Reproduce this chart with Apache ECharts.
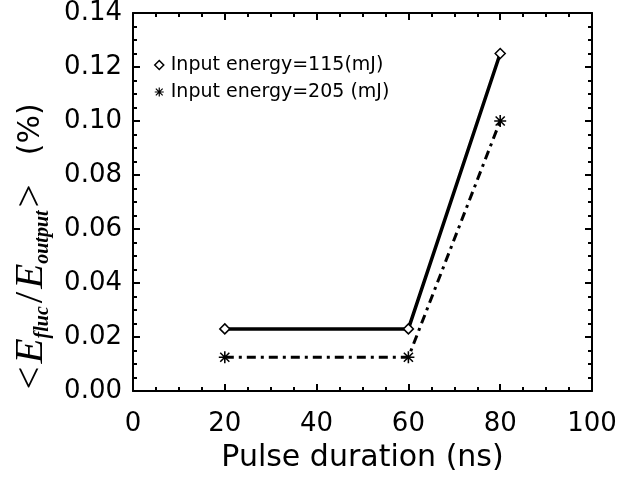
<!DOCTYPE html>
<html>
<head>
<meta charset="utf-8">
<script src="https://cdn.jsdelivr.net/npm/echarts@6/dist/echarts.min.js"></script>
<style>html,body{margin:0;padding:0;background:#fff}#c{width:620px;height:478px}</style>
</head>
<body>
<div id="c"></div>
<script>
const pulseDuration = [20, 60, 80];
const energy115 = [0.023, 0.023, 0.125];
const energy205 = [0.0125, 0.0125, 0.100];
const seriesNames = ['Input energy=115(mJ)', 'Input energy=205 (mJ)'];
const xTicks = [0, 20, 40, 60, 80, 100];
const yTicks = [0.00, 0.02, 0.04, 0.06, 0.08, 0.10, 0.12, 0.14];

const diamond = 'path://M0,-1L1,0L0,1L-1,0Z';
const asterisk = 'path://M-1,-0.13L1,-0.13L1,0.13L-1,0.13Z M-0.13,-1L0.13,-1L0.13,1L-0.13,1Z M-0.85,-0.67L-0.67,-0.85L0.85,0.67L0.67,0.85Z M-0.67,0.85L-0.85,0.67L0.67,-0.85L0.85,-0.67Z';

const font = 'DejaVu Sans';
const tick = {show: true, inside: true, length: 7, lineStyle: {color: '#000', width: 2}};
const minor = {show: true, splitNumber: 4, length: 4, lineStyle: {color: '#000', width: 2}};
const line = {show: true, onZero: false, lineStyle: {color: '#000', width: 2}};

const chart = echarts.init(document.getElementById('c'), null, {renderer: 'canvas'});
chart.setOption({
  backgroundColor: '#fff',
  animation: false,
  grid: {left: 133, right: 28, top: 9, bottom: 87, containLabel: false},
  legend: {
    orient: 'vertical', left: 149, top: 50, itemWidth: 9, itemHeight: 9, itemGap: 7,
    textStyle: {fontFamily: font, fontSize: 19, color: '#000', lineHeight: 20, padding: [0, 0, 0, 2]},
    data: [
      {name: seriesNames[0], icon: diamond, itemStyle: {color: '#fff', borderColor: '#000', borderWidth: 1.5}},
      {name: seriesNames[1], icon: asterisk, itemStyle: {color: '#000', borderWidth: 0}}
    ]
  },
  xAxis: [{
    type: 'value', min: xTicks[0], max: xTicks[xTicks.length - 1], interval: 20, position: 'bottom',
    axisLine: line, axisTick: tick, minorTick: minor, splitLine: {show: false},
    axisLabel: {fontFamily: font, fontSize: 26, color: '#000', margin: 20},
    name: 'Pulse duration (ns)', nameLocation: 'middle', nameGap: 52, nameMoveOverlap: false,
    nameTextStyle: {fontFamily: font, fontSize: 30, color: '#000'}
  }, {
    type: 'value', min: xTicks[0], max: xTicks[xTicks.length - 1], interval: 20, position: 'top',
    axisLine: line, axisTick: tick, minorTick: minor, splitLine: {show: false},
    axisLabel: {show: false}
  }],
  yAxis: [{
    type: 'value', min: yTicks[0], max: yTicks[yTicks.length - 1], interval: 0.02, position: 'left',
    axisLine: line, axisTick: tick, minorTick: minor, splitLine: {show: false},
    axisLabel: {fontFamily: font, fontSize: 26, color: '#000', margin: 11, formatter: v => v.toFixed(2)},
    name: '{a|<}{e|E}{s|fluc}{a|/}{e|E}{s|output}{a|>}{g|}{p|(%)}{w|}',
    nameLocation: 'middle', nameGap: 76,
    nameTextStyle: {
      color: '#000',
      rich: {
        a: {fontFamily: 'Liberation Serif', fontSize: 41, color: '#000', lineHeight: 44, verticalAlign: 'middle', padding: [0, 3, 0, 3]},
        e: {fontFamily: 'Liberation Serif', fontStyle: 'italic', fontSize: 41, color: '#000', lineHeight: 44, verticalAlign: 'middle'},
        s: {fontFamily: 'Liberation Serif', fontStyle: 'italic', fontWeight: 'bold', fontSize: 20, color: '#000', lineHeight: 44, verticalAlign: 'bottom'},
        g: {width: 26},
        p: {fontFamily: font, fontSize: 30, color: '#000', lineHeight: 44, verticalAlign: 'middle'},
        w: {width: 92}
      }
    }
  }, {
    type: 'value', min: yTicks[0], max: yTicks[yTicks.length - 1], interval: 0.02, position: 'right',
    axisLine: line, axisTick: tick, minorTick: minor, splitLine: {show: false},
    axisLabel: {show: false}
  }],
  series: [{
    name: seriesNames[0], type: 'line',
    data: pulseDuration.map((x, i) => [x, energy115[i]]),
    symbol: diamond, symbolSize: 10,
    itemStyle: {color: '#fff', borderColor: '#000', borderWidth: 1.5},
    lineStyle: {color: '#000', width: 3.5, type: 'solid'},
    z: 3
  }, {
    name: seriesNames[1], type: 'line',
    data: pulseDuration.map((x, i) => [x, energy205[i]]),
    symbol: asterisk, symbolSize: 12,
    itemStyle: {color: '#000', borderWidth: 0},
    lineStyle: {color: '#000', width: 3, type: [9, 5, 3, 5]},
    z: 2
  }]
});
</script>
</body>
</html>
